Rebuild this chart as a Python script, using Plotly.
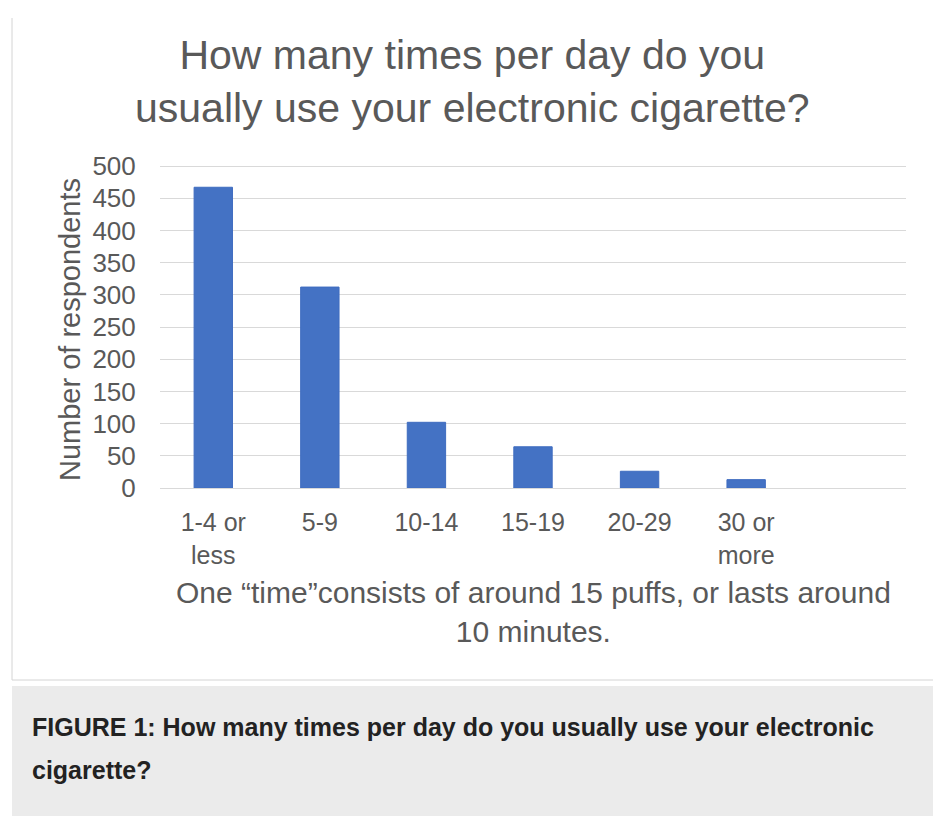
import plotly.graph_objects as go

categories = ["1-4 or<br>less", "5-9", "10-14", "15-19", "20-29", "30 or<br>more", " "]
respondents = [467, 312, 102, 64, 26, 13, None]
y_ticks = [0, 50, 100, 150, 200, 250, 300, 350, 400, 450, 500]

W, H = 933, 816
TXT = "#595959"
FONT = "Liberation Sans, Arial, sans-serif"

def px(x):
    return x / W

def py(y):
    return 1 - y / H

fig = go.Figure(go.Bar(
    x=categories, y=respondents, width=0.36,
    marker=dict(color="#4472C4", line=dict(color="#3f6cc0", width=1)),
))

fig.update_layout(
    width=W, height=H, margin=dict(l=0, r=0, t=0, b=0),
    paper_bgcolor="white", plot_bgcolor="white", showlegend=False,
    font=dict(family=FONT, color=TXT),
    xaxis=dict(domain=[px(160), px(906)], type="category", range=[-0.5, 6.5],
               showgrid=False, showline=True, linecolor="#d9d9d9", linewidth=1,
               ticks="outside", ticklen=12, tickcolor="rgba(0,0,0,0)",
               tickfont=dict(size=25, color=TXT, family=FONT), automargin=False),
    yaxis=dict(domain=[py(488), py(488 - 510 * 0.644)], range=[0, 510],
               tickvals=y_ticks, showgrid=True, gridcolor="#d9d9d9", gridwidth=1,
               zeroline=False, showline=False,
               ticks="outside", ticklen=18, tickcolor="rgba(0,0,0,0)",
               tickfont=dict(size=26, color=TXT, family=FONT), automargin=False),
    shapes=[
        dict(type="line", xref="paper", yref="paper", x0=px(12), x1=px(12), y0=py(18), y1=py(680),
             line=dict(color="#d4d4d4", width=1)),
        dict(type="line", xref="paper", yref="paper", x0=px(12), x1=1, y0=py(680), y1=py(680),
             line=dict(color="#d4d4d4", width=1)),
        dict(type="rect", xref="paper", yref="paper", x0=px(12), x1=1, y0=py(686), y1=0,
             fillcolor="#ebebeb", line=dict(width=0), layer="below"),
    ],
    annotations=[
        dict(text="How many times per day do you<br>usually use your electronic cigarette?",
             x=px(473), y=py(82), xref="paper", yref="paper", showarrow=False,
             xanchor="center", yanchor="middle", font=dict(size=41, color=TXT, family=FONT)),
        dict(text="Number of respondents", textangle=-90,
             x=px(70), y=py(330), xref="paper", yref="paper", showarrow=False,
             xanchor="center", yanchor="middle", font=dict(size=29, color=TXT, family=FONT)),
        dict(text="One \u201ctime\u201dconsists of around 15 puffs, or lasts around<br>10 minutes.",
             x=px(533), y=py(612), xref="paper", yref="paper", showarrow=False,
             xanchor="center", yanchor="middle", font=dict(size=30, color=TXT, family=FONT)),
        dict(text="<b>FIGURE 1: How many times per day do you usually use your electronic</b>",
             x=px(30), y=py(727), xref="paper", yref="paper", showarrow=False,
             xanchor="left", yanchor="middle", font=dict(size=25, color="#222222", family=FONT)),
        dict(text="<b>cigarette?</b>",
             x=px(30), y=py(770), xref="paper", yref="paper", showarrow=False,
             xanchor="left", yanchor="middle", font=dict(size=25, color="#222222", family=FONT)),
    ],
)

fig.write_html("out.html")
